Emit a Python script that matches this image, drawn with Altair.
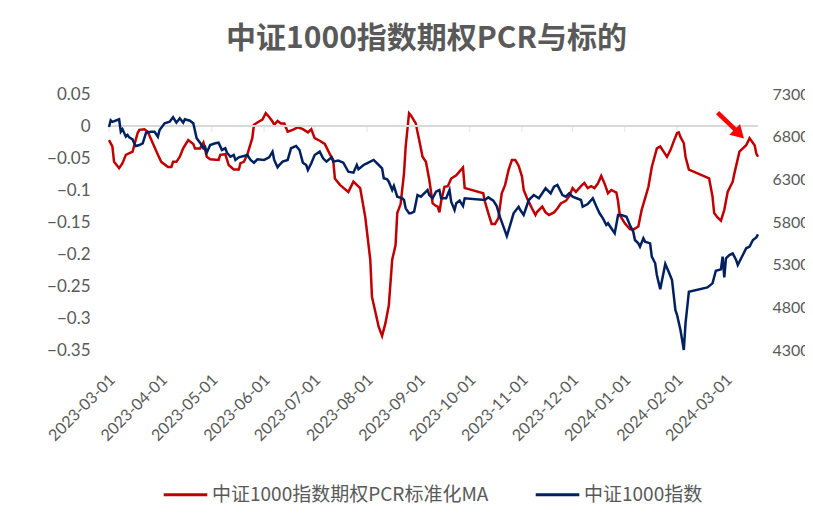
import altair as alt
import pandas as pd

TITLE = "中证1000指数期权PCR与标的"
RED_NAME = "中证1000指数期权PCR标准化MA"
BLUE_NAME = "中证1000指数"

# x-axis month labels / tick positions
month_ticks = ["2023-03-01", "2023-04-01", "2023-05-01", "2023-06-01", "2023-07-01",
               "2023-08-01", "2023-09-01", "2023-10-01", "2023-11-01", "2023-12-01",
               "2024-01-01", "2024-02-01", "2024-03-01"]
x_start, x_end = "2023-03-01", "2024-03-20"

left_ticks = [0.05, 0, -0.05, -0.1, -0.15, -0.2, -0.25, -0.3, -0.35]
right_ticks = [7300, 6800, 6300, 5800, 5300, 4800, 4300]

# 中证1000指数期权PCR标准化MA (left axis)
red_dates = [
    "2023-03-01", "2023-03-03", "2023-03-04", "2023-03-07", "2023-03-09", "2023-03-11", "2023-03-15",
    "2023-03-16", "2023-03-18", "2023-03-19", "2023-03-22", "2023-03-24", "2023-03-27", "2023-03-30",
    "2023-04-01", "2023-04-05", "2023-04-07", "2023-04-08", "2023-04-10", "2023-04-12", "2023-04-14",
    "2023-04-17", "2023-04-20", "2023-04-21", "2023-04-24", "2023-04-26", "2023-04-28", "2023-04-30",
    "2023-05-05", "2023-05-06", "2023-05-09", "2023-05-11", "2023-05-14", "2023-05-17", "2023-05-18",
    "2023-05-20", "2023-05-22", "2023-05-25", "2023-05-26", "2023-05-29", "2023-05-31", "2023-06-02",
    "2023-06-04", "2023-06-06", "2023-06-07", "2023-06-09", "2023-06-11", "2023-06-13", "2023-06-15",
    "2023-06-18", "2023-06-21", "2023-06-24", "2023-06-27", "2023-06-29", "2023-07-01", "2023-07-04",
    "2023-07-07", "2023-07-10", "2023-07-12", "2023-07-13", "2023-07-16", "2023-07-21", "2023-07-24",
    "2023-07-28", "2023-07-31", "2023-08-03", "2023-08-04", "2023-08-08", "2023-08-10", "2023-08-12",
    "2023-08-14", "2023-08-16", "2023-08-18", "2023-08-19", "2023-08-21", "2023-08-23", "2023-08-24",
    "2023-08-26", "2023-08-27", "2023-08-30", "2023-09-01", "2023-09-03", "2023-09-05", "2023-09-07",
    "2023-09-09", "2023-09-11", "2023-09-12", "2023-09-13", "2023-09-14", "2023-09-16", "2023-09-18",
    "2023-09-20", "2023-09-23", "2023-09-25", "2023-09-27", "2023-09-28", "2023-10-01", "2023-10-09",
    "2023-10-10", "2023-10-12", "2023-10-14", "2023-10-16", "2023-10-18", "2023-10-20", "2023-10-22",
    "2023-10-24", "2023-10-26", "2023-10-28", "2023-10-30", "2023-11-01", "2023-11-02", "2023-11-04",
    "2023-11-07", "2023-11-09", "2023-11-10", "2023-11-13", "2023-11-15", "2023-11-17", "2023-11-20",
    "2023-11-22", "2023-11-24", "2023-11-27", "2023-11-29", "2023-12-01", "2023-12-03", "2023-12-06",
    "2023-12-08", "2023-12-10", "2023-12-12", "2023-12-14", "2023-12-16", "2023-12-18", "2023-12-20",
    "2023-12-22", "2023-12-24", "2023-12-27", "2023-12-28", "2023-12-29", "2024-01-01", "2024-01-04",
    "2024-01-06", "2024-01-09", "2024-01-11", "2024-01-13", "2024-01-15", "2024-01-17", "2024-01-20",
    "2024-01-22", "2024-01-24", "2024-01-26", "2024-01-28", "2024-01-30", "2024-02-01", "2024-02-02",
    "2024-02-03", "2024-02-05", "2024-02-06", "2024-02-08", "2024-02-20", "2024-02-22", "2024-02-23",
    "2024-02-25", "2024-02-27", "2024-02-29", "2024-03-02", "2024-03-05", "2024-03-06", "2024-03-09",
    "2024-03-11", "2024-03-13", "2024-03-15", "2024-03-18", "2024-03-19", "2024-03-20",
]
red_values = [
    -0.022, -0.032, -0.056, -0.066, -0.058, -0.045, -0.040,
    -0.030, -0.011, -0.006, -0.005, -0.009, -0.027, -0.045,
    -0.056, -0.064, -0.064, -0.056, -0.056, -0.048, -0.035,
    -0.022, -0.028, -0.035, -0.035, -0.026, -0.048, -0.052,
    -0.053, -0.045, -0.044, -0.061, -0.068, -0.068, -0.058,
    -0.056, -0.045, -0.019, 0.002, 0.007, 0.010, 0.020,
    0.014, 0.007, 0.002, 0.008, 0.004, 0.004, -0.009,
    -0.006, -0.002, -0.005, -0.010, -0.005, -0.019, -0.023,
    -0.028, -0.044, -0.053, -0.082, -0.092, -0.103, -0.087,
    -0.097, -0.142, -0.209, -0.267, -0.314, -0.328, -0.308,
    -0.280, -0.209, -0.186, -0.136, -0.122, -0.074, -0.032,
    0.020, 0.017, 0.004, -0.022, -0.048, -0.056, -0.084,
    -0.121, -0.125, -0.126, -0.135, -0.118, -0.095, -0.094,
    -0.082, -0.077, -0.071, -0.065, -0.097, -0.099, -0.105,
    -0.118, -0.136, -0.153, -0.153, -0.144, -0.105, -0.092,
    -0.069, -0.053, -0.053, -0.062, -0.079, -0.100, -0.113,
    -0.129, -0.139, -0.134, -0.126, -0.135, -0.139, -0.135,
    -0.129, -0.121, -0.117, -0.110, -0.097, -0.103, -0.094,
    -0.089, -0.097, -0.094, -0.097, -0.090, -0.078, -0.090,
    -0.105, -0.100, -0.104, -0.118, -0.139, -0.152, -0.161,
    -0.162, -0.157, -0.131, -0.113, -0.095, -0.064, -0.035,
    -0.032, -0.040, -0.048, -0.038, -0.024, -0.011, -0.010,
    -0.017, -0.027, -0.048, -0.068, -0.082, -0.110, -0.136,
    -0.143, -0.148, -0.131, -0.103, -0.087, -0.074, -0.040,
    -0.035, -0.030, -0.019, -0.030, -0.043, -0.048,
]

# 中证1000指数 (right axis)
blue_dates = [
    "2023-03-01", "2023-03-02", "2023-03-03", "2023-03-07", "2023-03-08", "2023-03-09", "2023-03-11",
    "2023-03-12", "2023-03-13", "2023-03-15", "2023-03-16", "2023-03-17", "2023-03-19", "2023-03-21",
    "2023-03-23", "2023-03-26", "2023-03-28", "2023-03-30", "2023-03-31", "2023-04-03", "2023-04-06",
    "2023-04-08", "2023-04-10", "2023-04-12", "2023-04-14", "2023-04-15", "2023-04-18", "2023-04-20",
    "2023-04-22", "2023-04-24", "2023-04-26", "2023-04-27", "2023-04-28", "2023-04-30", "2023-05-03",
    "2023-05-05", "2023-05-07", "2023-05-09", "2023-05-10", "2023-05-12", "2023-05-14", "2023-05-15",
    "2023-05-17", "2023-05-20", "2023-05-22", "2023-05-24", "2023-05-26", "2023-05-28", "2023-06-01",
    "2023-06-04", "2023-06-06", "2023-06-07", "2023-06-09", "2023-06-10", "2023-06-12", "2023-06-15",
    "2023-06-17", "2023-06-20", "2023-06-22", "2023-06-24", "2023-06-26", "2023-06-27", "2023-06-29",
    "2023-07-01", "2023-07-04", "2023-07-06", "2023-07-08", "2023-07-11", "2023-07-12", "2023-07-15",
    "2023-07-18", "2023-07-21", "2023-07-24", "2023-07-26", "2023-07-27", "2023-07-30", "2023-08-01",
    "2023-08-03", "2023-08-05", "2023-08-08", "2023-08-10", "2023-08-11", "2023-08-13", "2023-08-14",
    "2023-08-16", "2023-08-17", "2023-08-19", "2023-08-22", "2023-08-23", "2023-08-24", "2023-08-26",
    "2023-08-27", "2023-08-29", "2023-08-31", "2023-09-02", "2023-09-04", "2023-09-06", "2023-09-07",
    "2023-09-09", "2023-09-11", "2023-09-13", "2023-09-14", "2023-09-17", "2023-09-19", "2023-09-20",
    "2023-09-22", "2023-09-23", "2023-09-25", "2023-09-27", "2023-09-28", "2023-10-10", "2023-10-12",
    "2023-10-15", "2023-10-17", "2023-10-19", "2023-10-21", "2023-10-23", "2023-10-25", "2023-10-27",
    "2023-10-30", "2023-10-31", "2023-11-02", "2023-11-04", "2023-11-05", "2023-11-08", "2023-11-11",
    "2023-11-13", "2023-11-15", "2023-11-18", "2023-11-20", "2023-11-22", "2023-11-25", "2023-11-27",
    "2023-11-29", "2023-12-01", "2023-12-06", "2023-12-07", "2023-12-10", "2023-12-13", "2023-12-15",
    "2023-12-17", "2023-12-19", "2023-12-21", "2023-12-22", "2023-12-24", "2023-12-26", "2023-12-28",
    "2023-12-30", "2024-01-02", "2024-01-04", "2024-01-06", "2024-01-07", "2024-01-09", "2024-01-10",
    "2024-01-12", "2024-01-13", "2024-01-16", "2024-01-17", "2024-01-19", "2024-01-20", "2024-01-22",
    "2024-01-25", "2024-01-27", "2024-01-29", "2024-01-31", "2024-02-01", "2024-02-03", "2024-02-05",
    "2024-02-06", "2024-02-08", "2024-02-19", "2024-02-22", "2024-02-24", "2024-02-27", "2024-02-28",
    "2024-02-29", "2024-03-01", "2024-03-03", "2024-03-05", "2024-03-07", "2024-03-08", "2024-03-11",
    "2024-03-13", "2024-03-15", "2024-03-17", "2024-03-19", "2024-03-20",
]
blue_values = [
    6914, 6992, 6973, 7003, 6858, 6886, 6800,
    6820, 6792, 6769, 6722, 6691, 6702, 6722,
    6847, 6858, 6858, 6800, 6878, 6957, 6976,
    7027, 6964, 7015, 6964, 7003, 6987, 6957,
    6781, 6729, 6664, 6680, 6612, 6702, 6722,
    6729, 6644, 6664, 6612, 6565, 6585, 6527,
    6558, 6573, 6585, 6527, 6495, 6535, 6527,
    6558, 6624, 6527, 6441, 6468, 6507, 6527,
    6664, 6691, 6644, 6495, 6468, 6409, 6488,
    6585, 6624, 6546, 6507, 6558, 6507, 6519,
    6495, 6389, 6378, 6468, 6418, 6468, 6488,
    6507, 6527, 6468, 6429, 6312, 6300, 6272,
    6175, 6222, 6097, 6078, 6058, 5960, 5902,
    5902, 5921, 6116, 6097, 6136, 6175, 6116,
    6078, 6155, 6175, 6078, 6078, 6175, 6038,
    5940, 6019, 6050, 5987, 6078, 6058, 6089,
    6050, 5987, 5855, 5745, 5636, 5765, 5902,
    5979, 5940, 5882, 5999, 6058, 6116, 6078,
    6136, 6195, 6136, 6214, 6234, 6116, 6097,
    6136, 6097, 6058, 5979, 6011, 6078, 5987,
    5902, 5843, 5765, 5785, 5726, 5667, 5882,
    5882, 5862, 5765, 5687, 5589, 5550, 5511,
    5609, 5570, 5550, 5394, 5316, 5179, 5011,
    5308, 5218, 5120, 4768, 4710, 4534, 4300,
    4612, 4983, 5034, 5081, 5229, 5245, 5394,
    5152, 5374, 5413, 5433, 5355, 5296, 5413,
    5492, 5511, 5589, 5620, 5656,
]

# red arrow annotation (left-axis units)
arrow_dates = ["2024-02-25", "2024-03-07"]
arrow_values = [0.021, -0.007]
arrow_head_date = ["2024-03-08"]
arrow_head_value = [-0.010]

red_df = pd.DataFrame({"date": red_dates, "pcr": red_values, "series": RED_NAME})
blue_df = pd.DataFrame({"date": blue_dates, "idx": blue_values, "series": BLUE_NAME})
tick_df = pd.DataFrame({"date": month_ticks})
arrow_df = pd.DataFrame({"date": arrow_dates, "pcr": arrow_values})
head_df = pd.DataFrame({"date": arrow_head_date, "pcr": arrow_head_value})

GRAY = "#595959"
RED = "#C00000"
BLUE = "#002060"

x_enc = alt.X(
    "date:T",
    scale=alt.Scale(domain=[x_start, x_end]),
    axis=alt.Axis(
        title=None, values=month_ticks, format="%Y-%m-%d", labelAngle=-45,
        labelAlign="right", labelBaseline="middle", labelPadding=27, labelOffset=3,
        labelFont="Lato", labelFontSize=16, labelColor=GRAY, labelOverlap=False,
        domain=False, ticks=False, grid=False,
    ),
)
left_scale = alt.Scale(domain=[-0.35, 0.05], nice=False, zero=False)
right_scale = alt.Scale(domain=[4300, 7300], nice=False, zero=False)
left_axis = alt.Axis(
    title=None, values=left_ticks, format=".2~f", orient="left",
    labelFont="Lato", labelFontSize=17, labelColor=GRAY, labelPadding=19,
    labelOverlap=False, labelFlush=False, domain=False, ticks=False, grid=False,
)

color_scale = alt.Scale(domain=[RED_NAME, BLUE_NAME], range=[RED, BLUE])
legend = alt.Legend(
    title=None, orient="none", legendX=53, legendY=377, direction="horizontal",
    symbolType="stroke", symbolSize=1900, symbolStrokeWidth=3, padding=0,
    labelFont="Noto Sans CJK SC", labelFontSize=19, labelColor=GRAY,
    labelOffset=3, columnPadding=40, labelLimit=500,
)
color_enc = alt.Color("series:N", scale=color_scale, legend=legend)

red_line = alt.Chart(red_df).mark_line(strokeWidth=2.5).encode(
    x=x_enc,
    y=alt.Y("pcr:Q", scale=left_scale, axis=left_axis),
    color=color_enc,
)
zero_rule = alt.Chart(red_df).mark_rule(color="#D9D9D9", strokeWidth=1.5).encode(
    y=alt.datum(0, scale=left_scale, axis=left_axis)
)
ticks = alt.Chart(tick_df).mark_tick(
    color="#D9D9D9", orient="vertical", size=6, thickness=1, yOffset=3
).encode(x=x_enc, y=alt.datum(0, scale=left_scale, axis=left_axis))
arrow_shaft = alt.Chart(arrow_df).mark_line(color="#FF0000", strokeWidth=4.5).encode(
    x=x_enc, y=alt.Y("pcr:Q", scale=left_scale, axis=left_axis)
)
arrow_head = alt.Chart(head_df).mark_point(
    shape="triangle", angle=135, size=230, filled=True, color="#FF0000", opacity=1
).encode(x=x_enc, y=alt.Y("pcr:Q", scale=left_scale, axis=left_axis))

blue_line = alt.Chart(blue_df).mark_line(strokeWidth=2.5).encode(
    x=x_enc,
    y=alt.Y("idx:Q", scale=right_scale, axis=alt.Axis(
        title=None, values=right_ticks, format="d", orient="right",
        labelFont="Lato", labelFontSize=16, labelColor=GRAY, labelPadding=14,
        labelOverlap=False, domain=False, ticks=False, grid=False)),
    color=color_enc,
)

left_layer = alt.layer(red_line, zero_rule, ticks, arrow_shaft, arrow_head)

chart = alt.layer(left_layer, blue_line).resolve_scale(y="independent").properties(
    width=649, height=256,
    padding={"left": 101, "top": 86, "right": 47, "bottom": 157},
    autosize=alt.AutoSizeParams(type="none"),
    background="white",
    title=alt.TitleParams(
        TITLE, font="Noto Sans CJK SC", fontSize=30, fontWeight="bold", color=GRAY,
        anchor="middle", frame="group", dx=-7, offset=1, baseline="bottom",
    ),
).configure_view(stroke=None)

chart.save("out.html", embed_options={"renderer": "svg", "actions": False})
